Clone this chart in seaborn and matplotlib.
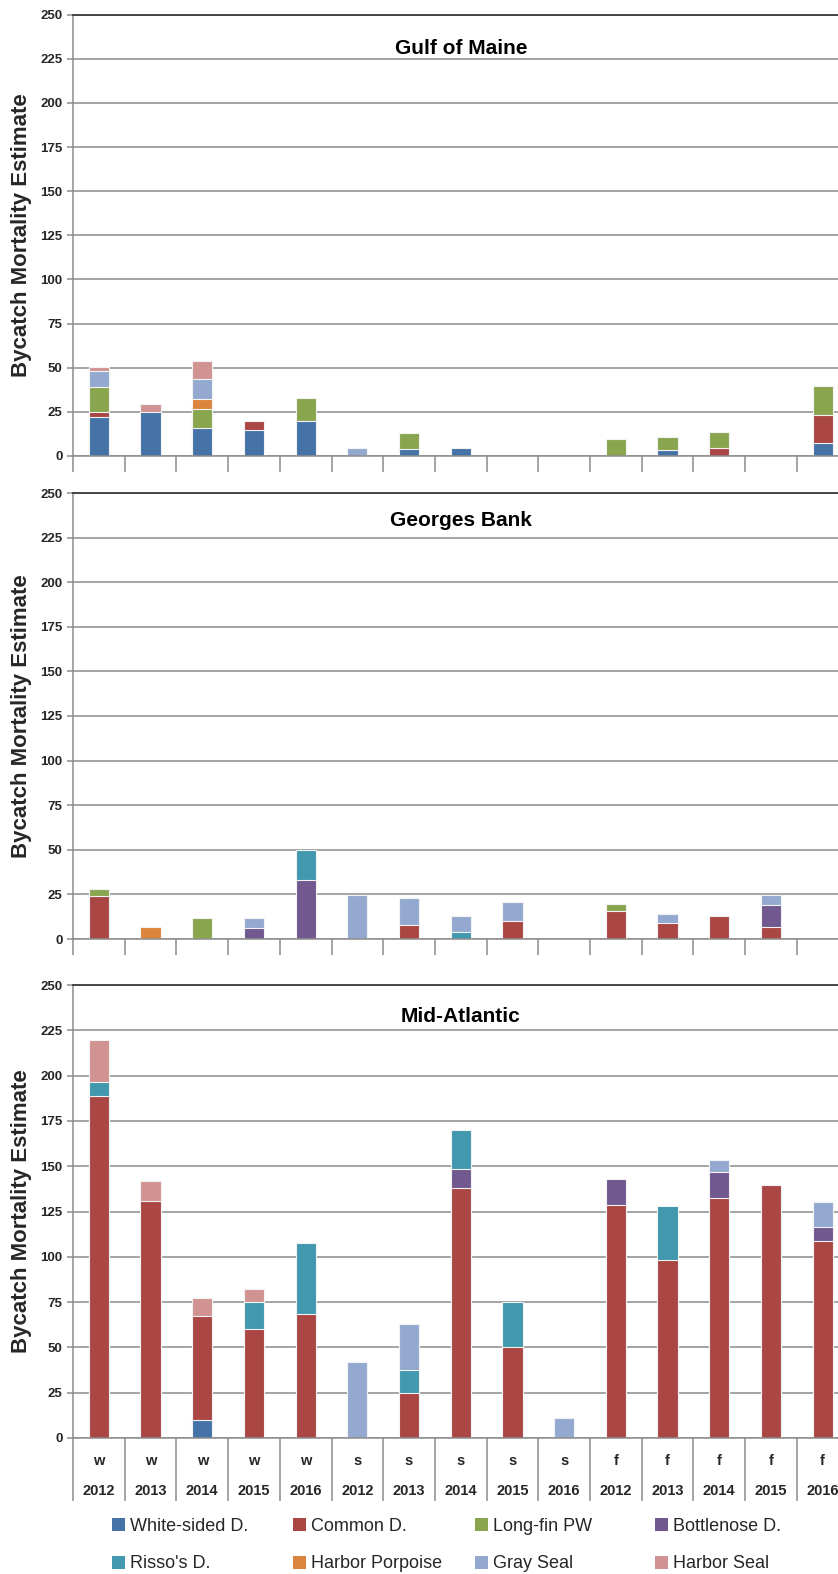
import numpy as np
import pandas as pd
import matplotlib
matplotlib.use("Agg")
import matplotlib.pyplot as plt
import seaborn as sns

# ---------------- data ----------------
seasons = ["w"] * 5 + ["s"] * 5 + ["f"] * 5
years = ["2012", "2013", "2014", "2015", "2016"] * 3
species = ["White-sided D.", "Common D.", "Long-fin PW", "Bottlenose D.",
           "Risso's D.", "Harbor Porpoise", "Gray Seal", "Harbor Seal"]
colors = ["#4572A7", "#AA4643", "#89A54E", "#71588F",
          "#4198AF", "#DB843D", "#93A9CF", "#D19392"]
regions = ["Gulf of Maine", "Georges Bank", "Mid-Atlantic"]

# Gulf of Maine
gom_white_sided = [22, 25, 16, 14.7, 20, 0, 4, 4.7, 0, 0, 0, 3.4, 0, 0, 7.5]
gom_common = [3, 0, 0, 5.1, 0, 0, 0, 0, 0, 0, 0, 0, 4.7, 0, 16]
gom_longfin = [14, 0, 10.8, 0, 12.6, 0, 8.8, 0, 0, 0, 9.8, 7.5, 8.7, 0, 16.4]
gom_bottlenose = [0] * 15
gom_rissos = [0] * 15
gom_porpoise = [0, 0, 5.6, 0, 0, 0, 0, 0, 0, 0, 0, 0, 0, 0, 0]
gom_gray_seal = [9, 0, 11, 0, 0, 4.7, 0, 0, 0, 0, 0, 0, 0, 0, 0]
gom_harbor_seal = [2.5, 4.2, 10.5, 0, 0, 0, 0, 0, 0, 0, 0, 0, 0, 0, 0]

# Georges Bank
gb_white_sided = [0] * 15
gb_common = [24, 0, 0, 0, 0, 0, 7.6, 0, 10, 0, 15.7, 9, 12.7, 6.5, 0]
gb_longfin = [4.2, 0, 12, 0, 0, 0, 0, 0, 0, 0, 3.9, 0, 0, 0, 0]
gb_bottlenose = [0, 0, 0, 6.3, 33.2, 0, 0, 0, 0, 0, 0, 0, 0, 12.3, 0]
gb_rissos = [0, 0, 0, 0, 16.8, 0, 0, 3.9, 0, 0, 0, 0, 0, 0, 0]
gb_porpoise = [0, 7, 0, 0, 0, 0, 0, 0, 0, 0, 0, 0, 0, 0, 0]
gb_gray_seal = [0, 0, 0, 5.6, 0, 24.6, 15.5, 8.8, 10.6, 0, 0, 5, 0, 6, 0]
gb_harbor_seal = [0] * 15

# Mid-Atlantic
ma_white_sided = [0, 0, 10, 0, 0, 0, 0, 0, 0, 0, 0, 0, 0, 0, 0]
ma_common = [189, 130.6, 57.6, 60, 68.6, 0, 25, 138, 50, 0, 128.5, 98.3, 132.4, 139.6, 108.8]
ma_longfin = [0] * 15
ma_bottlenose = [0, 0, 0, 0, 0, 0, 0, 10.5, 0, 0, 14.4, 0, 14.2, 0, 7.4]
ma_rissos = [7.5, 0, 0, 15, 39, 0, 12.5, 21.6, 25, 0, 0, 29.7, 0, 0, 0]
ma_porpoise = [0] * 15
ma_gray_seal = [0, 0, 0, 0, 0, 42, 25.2, 0, 0, 11.2, 0, 0, 6.8, 0, 14.2]
ma_harbor_seal = [23, 11, 9.7, 7.3, 0, 0, 0, 0, 0, 0, 0, 0, 0, 0, 0]

region_data = [
    [gom_white_sided, gom_common, gom_longfin, gom_bottlenose, gom_rissos, gom_porpoise, gom_gray_seal, gom_harbor_seal],
    [gb_white_sided, gb_common, gb_longfin, gb_bottlenose, gb_rissos, gb_porpoise, gb_gray_seal, gb_harbor_seal],
    [ma_white_sided, ma_common, ma_longfin, ma_bottlenose, ma_rissos, ma_porpoise, ma_gray_seal, ma_harbor_seal],
]

# ---------------- style ----------------
sns.set_theme(style="white")
plt.rcParams["font.family"] = ["Liberation Sans", "DejaVu Sans"]

W, H = 838, 1574
fig = plt.figure(figsize=(W / 100, H / 100), dpi=100)

cats = [f"{s} {y}" for s, y in zip(seasons, years)]
n = len(cats)
left = 73 / W
width = n * 51.7 / W
# (top px, bottom px) of each panel
panel_px = [(14.7, 456), (493, 939), (985, 1438)]
title_off = [34, 28, 31]

grid_c = "#8C8C8C"
axes = []
for r, (top, bot) in enumerate(panel_px):
    ax = fig.add_axes([left, (H - bot) / H, width, (bot - top) / H])
    axes.append(ax)
    vals = np.array(region_data[r], dtype=float)
    cum = np.cumsum(vals, axis=0)
    # draw from top layer down so that each lower layer covers the upper one's base
    for k in range(len(species) - 1, -1, -1):
        y = np.where(vals[k] > 0, cum[k], np.nan)
        if np.all(np.isnan(y)):
            continue
        df = pd.DataFrame({"cat": cats, "val": y})
        sns.barplot(data=df, x="cat", y="val", order=cats, color=colors[k],
                    saturation=1, width=0.39, errorbar=None, ax=ax,
                    edgecolor="#F2F2F2", linewidth=0.8)
    ax.set_xlim(-0.5, n - 0.5)
    ax.set_ylim(0, 250)
    ax.set_yticks(np.arange(0, 251, 25))
    ax.yaxis.grid(True, color=grid_c, linewidth=1.1)
    ax.set_axisbelow(True)
    ax.spines["right"].set_visible(False)
    ax.spines["top"].set_color("#3A3A3A")
    ax.spines["top"].set_linewidth(1.3)
    ax.spines["left"].set_color(grid_c)
    ax.spines["bottom"].set_color(grid_c)
    ax.spines["left"].set_linewidth(1.1)
    ax.spines["bottom"].set_linewidth(1.1)
    ax.tick_params(axis="y", which="major", length=4.5, width=1.1, color=grid_c,
                   left=True, pad=3, labelsize=9.5)
    for lab in ax.get_yticklabels():
        lab.set_fontweight("bold")
    ax.set_xlabel("")
    ax.set_ylabel("Bycatch Mortality Estimate", fontsize=16, fontweight="bold")
    ax.yaxis.set_label_coords(-(73 - 32) / (width * W), 0.5)
    ax.set_xticks(np.arange(n))
    ax.set_xticklabels([""] * n)
    ax.tick_params(axis="x", which="major", length=0)
    ax.set_xticks(np.arange(n + 1) - 0.5, minor=True)
    tick_len = 16 if r < 2 else 63
    ax.tick_params(axis="x", which="minor", bottom=True, length=tick_len * 0.72,
                   width=1.1, color=grid_c, direction="out")
    ax.text(0.5, 1 - title_off[r] / (bot - top), regions[r], transform=ax.transAxes,
            ha="center", va="center", fontsize=15, fontweight="bold",
            color="black")

# two-level category labels under the bottom panel
ax = axes[2]
tr = ax.get_xaxis_transform()
for i in range(n):
    ax.annotate(seasons[i], xy=(i, 0), xycoords=tr, xytext=(0, -23 * 0.72),
                textcoords="offset points", ha="center", va="center",
                fontsize=10.5, fontweight="bold")
    ax.annotate(years[i], xy=(i, 0), xycoords=tr, xytext=(0, -53 * 0.72),
                textcoords="offset points", ha="center", va="center",
                fontsize=10.5, fontweight="bold")

# legend: four columns of two entries, filled row by row
col_x = [112, 293, 475, 655]
for c in range(4):
    idx = [c, c + 4]
    handles = [plt.Rectangle((0, 0), 1, 1, facecolor=colors[i], edgecolor="none")
               for i in idx]
    fig.legend(handles, [species[i] for i in idx], loc="center left",
               bbox_to_anchor=(col_x[c] / W, 1 - 1545 / H), frameon=False,
               fontsize=13, handlelength=0.72, handleheight=0.72,
               handletextpad=0.25, labelspacing=1.15, borderpad=0,
               borderaxespad=0)

fig.savefig("out.png", dpi=100)
